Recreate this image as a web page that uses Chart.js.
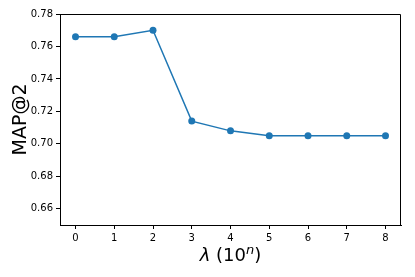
<!DOCTYPE html>
<html lang="en">
<head>
    <meta charset="UTF-8">
    <title>MAP@2 vs lambda</title>
    <script src="https://cdn.jsdelivr.net/npm/chart.js@4.4.1/dist/chart.umd.min.js"></script>
    <style>
        body {
            margin: 0;
            background-color: white;
        }
        #chart {
            display: block;
        }
    </style>
</head>
<body>
    <canvas id="chart" width="415" height="277"></canvas>

    <script>
        // exponent n of lambda = 10^n
        const lambdaExp = [0, 1, 2, 3, 4, 5, 6, 7, 8];
        const mapAt2 = [0.766, 0.766, 0.770, 0.714, 0.708, 0.705, 0.705, 0.705, 0.705];
        const yTicks = [0.66, 0.68, 0.70, 0.72, 0.74, 0.76, 0.78];
        const xTicks = [0, 1, 2, 3, 4, 5, 6, 7, 8];

        const fontFamily = '"DejaVu Sans", sans-serif';

        // top/right spines and axis titles (mathtext-ish x label)
        const decorations = {
            id: 'decorations',
            afterDraw(chart) {
                const c = chart.ctx;
                const area = chart.chartArea;
                c.save();
                c.strokeStyle = '#000';
                c.lineWidth = 1;
                c.setLineDash([]);
                c.beginPath();
                c.moveTo(area.left, area.top + 0.5);
                c.lineTo(area.right - 0.5, area.top + 0.5);
                c.lineTo(area.right - 0.5, area.bottom);
                c.stroke();

                c.fillStyle = '#000';
                // y title
                c.save();
                c.translate(26, (area.top + area.bottom) / 2);
                c.rotate(-Math.PI / 2);
                c.font = '19px ' + fontFamily;
                c.textAlign = 'center';
                c.textBaseline = 'alphabetic';
                c.fillText('MAP@2', 0, 0);
                c.restore();

                // x title: λ (10^n)
                const size = 18;
                const baseY = 261;
                const parts = [
                    { text: 'λ', font: 'italic ' + size + 'px ' + fontFamily, dy: 0 },
                    { text: ' (10', font: size + 'px ' + fontFamily, dy: 0 },
                    { text: 'n', font: 'italic ' + Math.round(size * 0.7) + 'px ' + fontFamily, dy: -7 },
                    { text: ')', font: size + 'px ' + fontFamily, dy: 0 }
                ];
                let total = 0;
                parts.forEach(p => {
                    c.font = p.font;
                    p.w = c.measureText(p.text).width;
                    total += p.w;
                });
                let x = (area.left + area.right) / 2 - total / 2;
                c.textAlign = 'left';
                c.textBaseline = 'alphabetic';
                parts.forEach(p => {
                    c.font = p.font;
                    c.fillText(p.text, x, baseY + p.dy);
                    x += p.w;
                });
                c.restore();
            }
        };

        new Chart(document.getElementById('chart'), {
            type: 'line',
            data: {
                labels: lambdaExp,
                datasets: [{
                    data: lambdaExp.map((n, i) => ({ x: n, y: mapAt2[i] })),
                    borderColor: '#1f77b4',
                    backgroundColor: '#1f77b4',
                    borderWidth: 1.5,
                    pointRadius: 3.5,
                    pointBorderWidth: 0,
                    pointBackgroundColor: '#1f77b4',
                    tension: 0,
                    clip: false
                }]
            },
            options: {
                responsive: false,
                animation: false,
                layout: {
                    padding: { top: 14, right: 14, left: 0, bottom: 0 }
                },
                plugins: {
                    legend: { display: false },
                    tooltip: { enabled: false }
                },
                scales: {
                    x: {
                        type: 'linear',
                        min: -0.4,
                        max: 8.4,
                        afterBuildTicks(scale) {
                            scale.ticks = xTicks.map(v => ({ value: v }));
                        },
                        afterFit(scale) {
                            scale.height = 52;
                        },
                        grid: {
                            display: true,
                            drawOnChartArea: false,
                            drawTicks: true,
                            tickLength: 4,
                            tickColor: '#000',
                            tickWidth: 1,
                            color: '#000'
                        },
                        border: { display: true, color: '#000', width: 1 },
                        ticks: {
                            color: '#000',
                            padding: 3,
                            maxRotation: 0,
                            font: { family: fontFamily, size: 10 },
                            callback: v => String(v)
                        }
                    },
                    y: {
                        min: 0.65,
                        max: 0.78,
                        afterBuildTicks(scale) {
                            scale.ticks = yTicks.map(v => ({ value: v }));
                        },
                        afterFit(scale) {
                            scale.width = 60;
                        },
                        grid: {
                            display: true,
                            drawOnChartArea: false,
                            drawTicks: true,
                            tickLength: 4,
                            tickColor: '#000',
                            tickWidth: 1,
                            color: '#000'
                        },
                        border: { display: true, color: '#000', width: 1 },
                        ticks: {
                            color: '#000',
                            padding: 3,
                            font: { family: fontFamily, size: 10 },
                            callback: v => v.toFixed(2)
                        }
                    }
                }
            },
            plugins: [decorations]
        });
    </script>
</body>
</html>
